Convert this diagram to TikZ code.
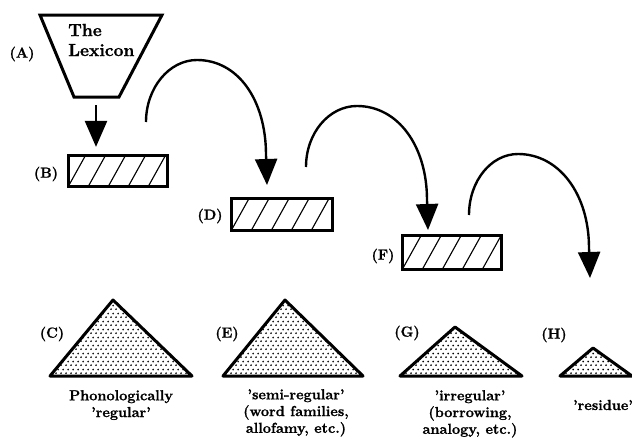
\documentclass[tikz,border=0pt]{standalone}
\usepackage{fontspec}
\setmainfont{Latin Modern Roman}[BoldFeatures={FakeBold=1.2}]
\usetikzlibrary{arrows.meta,patterns.meta}
\pgfdeclarepattern{
  name=stipple,
  type=uncolored,
  bottom left={\pgfpoint{0pt}{0pt}},
  top right={\pgfpoint{5pt}{8pt}},
  tile size={\pgfpoint{5pt}{8pt}},
  code={
    \pgfpathcircle{\pgfpoint{1.25pt}{2pt}}{1.1pt}
    \pgfpathcircle{\pgfpoint{3.75pt}{6pt}}{1.1pt}
    \pgfusepath{fill}
  }
}
\newcommand\hatchbox[1]{%
  \begin{scope}
    \clip (#1.south west) rectangle (#1.north east);
    \foreach \k in {-1,...,6}
      \draw[line width=1.1pt] ([xshift=\k*20pt]#1.south west) -- ++(20,-36);
  \end{scope}}
\begin{document}
\begin{tikzpicture}[x=1pt,y=-1pt,
  box/.style={draw, line width=2.2pt, inner sep=0pt},
  lbl/.style={font=\fontsize{14.5}{16}\selectfont\bfseries, inner sep=0pt},
  captext/.style={font=\fontsize{14.5}{16.8}\selectfont\bfseries, align=center, inner sep=0pt},
  tri/.style={line width=3pt, line join=round, pattern=stipple},
  flow/.style={line width=2.4pt, -{Triangle[width=22pt,length=26pt]}}]
\useasboundingbox (0,0) rectangle (632,439);

% (A) the lexicon funnel
\coordinate (Atl) at (40,15);
\coordinate (Atr) at (162,15);
\coordinate (Abr) at (119,97);
\coordinate (Abl) at (74,97);
\coordinate (Abot) at (96,97);
\draw[line width=3pt, line join=miter] (Atl) -- (Atr) -- (Abr) -- (Abl) -- cycle;
\node[font=\fontsize{17.5}{20}\selectfont\bfseries, align=left, anchor=west, inner sep=0pt]
  (lexicon) at (68,40) {The\\Lexicon};
\node[lbl] (la) at (22,54) {(A)};

% boxes
\node[box, minimum width=98pt, minimum height=30pt] (B) at (118,171) {};
\node[box, minimum width=100pt, minimum height=31pt] (D) at (282,214.5) {};
\node[box, minimum width=98pt, minimum height=33pt] (F) at (452,252.5) {};
\hatchbox{B}
\hatchbox{D}
\hatchbox{F}
\draw[line width=2.2pt] (B.south west) rectangle (B.north east);
\draw[line width=2.2pt] (D.south west) rectangle (D.north east);
\draw[line width=2.2pt] (F.south west) rectangle (F.north east);
\node[lbl] (lb) at (46,174) {(B)};
\node[lbl] (ld) at (210,216) {(D)};
\node[lbl] (lf) at (383,256) {(F)};

% arrow A -> B
\draw[flow, shorten <=8pt, shorten >=8pt] (Abot) -- (Abot |- B.north);

% curved arrows
\coordinate (s1) at (146,122);
\coordinate (t1) at (267,185);
\coordinate (s2) at (306,167);
\coordinate (t2) at (428,230);
\coordinate (s3) at (469,215);
\coordinate (t3) at (590,278);
\draw[flow] (s1) .. controls (146,88) and (169,60) .. (197,60)
  .. controls (238,60) and (266,100) .. (266,155) -- (t1);
\draw[flow] (s2) .. controls (306,133) and (329,106) .. (357,106)
  .. controls (398,106) and (427,146) .. (427,200) -- (t2);
\draw[flow] (s3) .. controls (469,181) and (491,154) .. (518,154)
  .. controls (559,154) and (589,194) .. (589,248) -- (t3);

% triangles
\draw[tri] (113,300) -- (192,376) -- (50,376) -- cycle;
\draw[tri] (285,300) -- (363,376) -- (223,376) -- cycle;
\draw[tri] (455,327) -- (522,376) -- (400,376) -- cycle;
\draw[tri] (593,348) -- (632,376) -- (560,376) -- cycle;
\node[lbl] (lc) at (52,334) {(C)};
\node[lbl] (le) at (227,334) {(E)};
\node[lbl] (lg) at (407,333) {(G)};
\node[lbl] (lh) at (554,335) {(H)};

% captions
\node[captext, anchor=north] (cc) at (121,390) {Phonologically\\'regular'};
\node[captext, anchor=north] (ce) at (296,389) {'semi-regular'\\(word families,\\allofamy, etc.)};
\node[captext, anchor=north] (cg) at (470,390) {'irregular'\\(borrowing,\\analogy, etc.)};
\node[captext] (ch) at (603,405) {'residue'};
\end{tikzpicture}
\end{document}
